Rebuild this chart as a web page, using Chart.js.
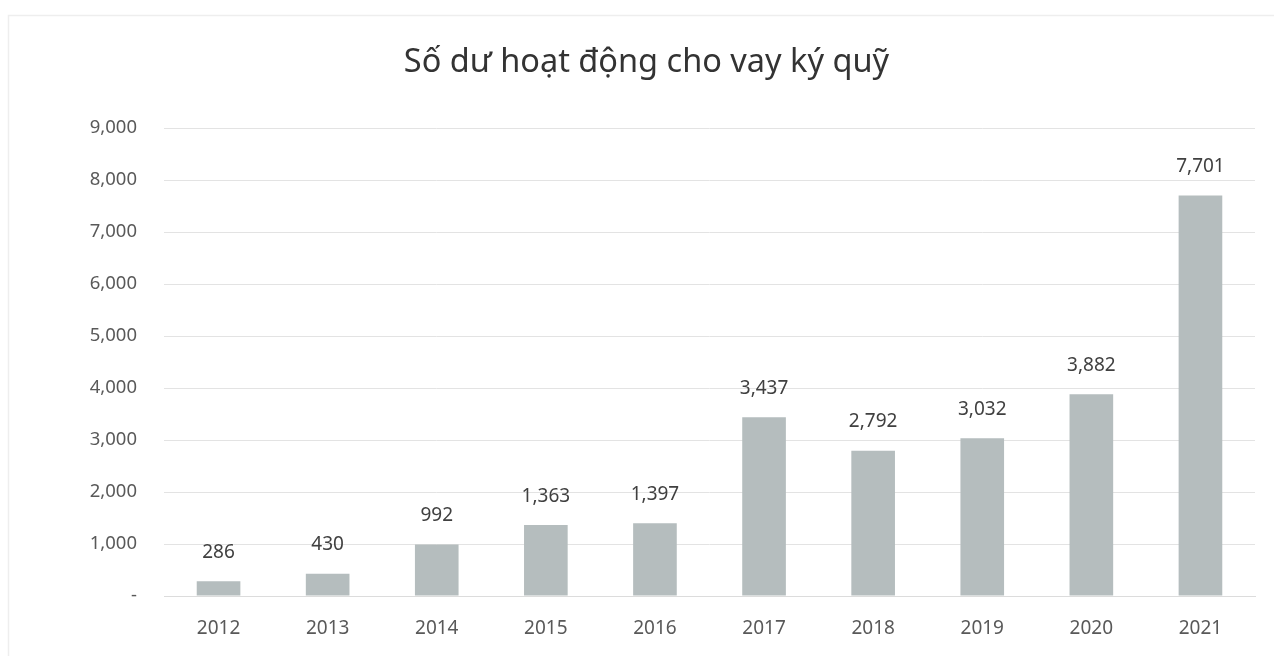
<!DOCTYPE html>
<html>
<head>
<meta charset="utf-8">
<title>Số dư hoạt động cho vay ký quỹ</title>
<script src="https://cdn.jsdelivr.net/npm/chart.js@4/dist/chart.umd.min.js"></script>
<style>
  html, body { margin: 0; padding: 0; background: #fff; }
  #wrap { width: 1274px; height: 656px; position: relative; }
</style>
</head>
<body>
<div id="wrap"><canvas id="marginChart"></canvas></div>
<script>
const years = ['2012', '2013', '2014', '2015', '2016', '2017', '2018', '2019', '2020', '2021'];
const balances = [286, 430, 992, 1363, 1397, 3437, 2792, 3032, 3882, 7701];
const yTicks = [0, 1000, 2000, 3000, 4000, 5000, 6000, 7000, 8000, 9000];

const FONT = '"Noto Sans", "Open Sans", sans-serif';

function fmt(v) {
    return v === 0 ? '-' : v.toLocaleString('en-US');
}

// faint frame behind the chart
const frame = {
    id: 'frame',
    beforeDraw(chart) {
        const ctx = chart.ctx;
        ctx.save();
        ctx.strokeStyle = '#eeeeee';
        ctx.lineWidth = 1.5;
        ctx.strokeRect(8.5, 15.5, 1400, 800);
        ctx.restore();
    }
};

// value above each bar
const barValues = {
    id: 'barValues',
    afterDatasetsDraw(chart) {
        const ctx = chart.ctx;
        const meta = chart.getDatasetMeta(0);
        ctx.save();
        ctx.font = '19px ' + FONT;
        ctx.fillStyle = '#404040';
        ctx.textAlign = 'center';
        ctx.textBaseline = 'middle';
        meta.data.forEach((bar, i) => {
            ctx.fillText(fmt(balances[i]), bar.x, bar.y - 29);
        });
        ctx.restore();
    }
};

const ctx = document.getElementById('marginChart').getContext('2d');
const chart = new Chart(ctx, {
    type: 'bar',
    data: {
        labels: years,
        datasets: [{
            label: 'Số dư',
            data: balances,
            backgroundColor: '#b5bdbe',
            borderWidth: 0,
            categoryPercentage: 0.8,
            barPercentage: 0.5
        }]
    },
    options: {
        responsive: true,
        maintainAspectRatio: false,
        animation: false,
        layout: { padding: { left: 38, right: 19, top: 0, bottom: 0 } },
        plugins: {
            legend: { display: false },
            tooltip: { enabled: false },
            title: {
                display: true,
                text: 'Số dư hoạt động cho vay ký quỹ',
                color: '#333333',
                font: { family: FONT, size: 32.5, weight: 'normal' },
                padding: { top: 43, bottom: 46 }
            }
        },
        scales: {
            x: {
                afterFit(scale) { scale.height = 60; },
                grid: { display: false, drawTicks: false },
                border: { display: true, color: '#dcdcdc', width: 1 },
                ticks: {
                    color: '#595959',
                    font: { family: FONT, size: 19 },
                    padding: 21,
                    maxRotation: 0
                }
            },
            y: {
                min: 0,
                max: 9000,
                afterFit(scale) { scale.width = 126; },
                afterBuildTicks(scale) {
                    scale.ticks = yTicks.map(v => ({ value: v }));
                },
                grid: { color: '#e3e3e3', lineWidth: 1, drawTicks: false },
                border: { display: false },
                ticks: {
                    color: '#595959',
                    font: { family: FONT, size: 18.5 },
                    padding: 27,
                    callback: v => fmt(v)
                }
            }
        }
    },
    plugins: [frame, barValues]
});
</script>
</body>
</html>
